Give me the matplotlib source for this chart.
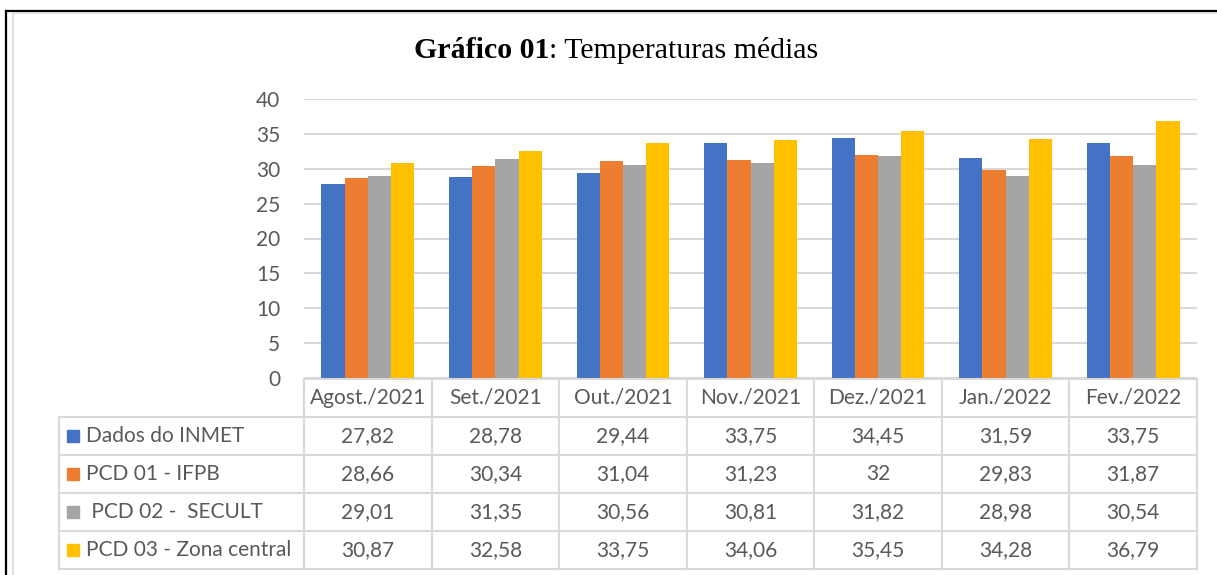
import numpy as np
import matplotlib
matplotlib.use("Agg")
import matplotlib.pyplot as plt
from matplotlib.lines import Line2D

# dados do gráfico
meses = ["Agost./2021", "Set./2021", "Out./2021", "Nov./2021", "Dez./2021", "Jan./2022", "Fev./2022"]
series = ["Dados do INMET", "PCD 01 - IFPB", " PCD 02 -  SECULT", "PCD 03 - Zona central"]
inmet = [27.82, 28.78, 29.44, 33.75, 34.45, 31.59, 33.75]
pcd01 = [28.66, 30.34, 31.04, 31.23, 32, 29.83, 31.87]
pcd02 = [29.01, 31.35, 30.56, 30.81, 31.82, 28.98, 30.54]
pcd03 = [30.87, 32.58, 33.75, 34.06, 35.45, 34.28, 36.79]
valores = [inmet, pcd01, pcd02, pcd03]
cores = ["#4472C4", "#ED7D31", "#A5A5A5", "#FFC000"]

W, H = 1217, 575
cinza_txt = "#595959"
cinza_lin = "#D9D9D9"
fonte = "Lato"
tam = 15


def fx(px):
    return px / W


def fy(py):
    return 1 - py / H


def fmt(v):
    return f"{v:g}".replace(".", ",")


fig = plt.figure(figsize=(W / 100, H / 100), dpi=100)

# moldura
fig.add_artist(Line2D([fx(6), fx(6)], [0, fy(11)], color="black", lw=1.6))
fig.add_artist(Line2D([fx(6), 1], [fy(11), fy(11)], color="black", lw=1.6))
fig.add_artist(Line2D([fx(13), fx(13)], [0, fy(13)], color=cinza_lin, lw=1.2))
fig.add_artist(Line2D([fx(13), 1], [fy(13), fy(13)], color=cinza_lin, lw=1.2))

# título
fig.text(fx(549), fy(51), "Gráfico 01", ha="right", va="center",
         fontfamily="Liberation Serif", fontweight="bold", fontsize=21.5)
fig.text(fx(549), fy(51), ": Temperaturas médias", ha="left", va="center",
         fontfamily="Liberation Serif", fontsize=21.5)

# gráfico de barras
ax = fig.add_axes([fx(304), fy(378), fx(1197) - fx(304), fy(99) - fy(378)])
x = np.arange(len(meses))
bw = 1 / 5.5
for i, (vals, c) in enumerate(zip(valores, cores)):
    ax.bar(x + 0.5 + (i - 1.5) * bw, vals, bw, color=c, zorder=3)
ax.set_xlim(0, len(meses))
ax.set_ylim(0, 40)
ax.set_yticks(range(0, 41, 5))
ax.set_xticks([])
ax.grid(axis="y", color=cinza_lin, lw=1.5, zorder=0)
for s in ax.spines.values():
    s.set_visible(False)
ax.tick_params(axis="y", length=0, pad=17, labelcolor=cinza_txt, labelsize=tam)
for t in ax.get_yticklabels():
    t.set_fontfamily(fonte)

# tabela de dados
col_w = (1197 - 304) / len(meses)
lab_w = (304 - 59) / col_w
tax = fig.add_axes([fx(59), fy(569), fx(1197) - fx(59), fy(379) - fy(569)])
tax.set_xlim(-lab_w, len(meses))
tax.set_ylim(len(series) + 1, 0)
tax.axis("off")

tax.plot([0, len(meses)], [0, 0], color=cinza_lin, lw=1.5, clip_on=False)
for r in range(1, len(series) + 2):
    tax.plot([-lab_w, len(meses)], [r, r], color=cinza_lin, lw=1.5, clip_on=False)
for c in range(len(meses) + 1):
    tax.plot([c, c], [0, len(series) + 1], color=cinza_lin, lw=1.5, clip_on=False)
tax.plot([-lab_w, -lab_w], [1, len(series) + 1], color=cinza_lin, lw=1.5, clip_on=False)

for j, m in enumerate(meses):
    tax.text(j + 0.5, 0.5, m, ha="center", va="center", color=cinza_txt,
             fontfamily=fonte, fontsize=tam)

for i, (nome, vals, cor) in enumerate(zip(series, valores, cores)):
    r = i + 1.5
    tax.plot([-lab_w + 14 / col_w], [r], marker="s", ms=8.5, color=cor, ls="none", clip_on=False)
    tax.text(-lab_w + 27 / col_w, r, nome, ha="left", va="center", color=cinza_txt,
             fontfamily=fonte, fontsize=tam)
    for j, v in enumerate(vals):
        tax.text(j + 0.5, r, fmt(v), ha="center", va="center", color=cinza_txt,
                 fontfamily=fonte, fontsize=tam)

fig.savefig("out.png", dpi=100, facecolor="white")
